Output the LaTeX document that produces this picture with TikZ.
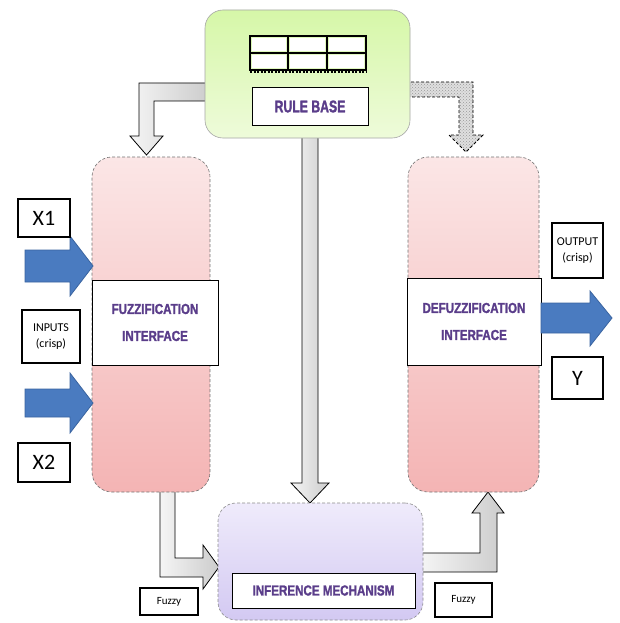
\documentclass[tikz,border=0pt]{standalone}
\usepackage{fontspec}
\setmainfont{Carlito}
\newfontfamily\lblfont[FakeStretch=0.8,FakeBold=1.5]{Liberation Sans Bold}
\newfontfamily\rbfont[FakeStretch=0.72,FakeBold=1.5]{Liberation Sans Bold}
\usetikzlibrary{patterns}
\definecolor{lblpurple}{HTML}{5A3D8A}
\definecolor{arrowblue}{HTML}{4A7BC0}
\definecolor{arrowblueedge}{HTML}{3A64A0}
\definecolor{pinktop}{HTML}{FBE6E6}
\definecolor{pinkbot}{HTML}{F4B4B4}
\definecolor{greentop}{HTML}{D6F7A8}
\definecolor{greenbot}{HTML}{EEFBDA}
\definecolor{lavtop}{HTML}{EFEBFB}
\definecolor{lavbot}{HTML}{D3C9F2}
\tikzset{
  textbox/.style={draw=black, line width=1.2pt, fill=white, inner sep=0pt, align=center},
  bandbox/.style={draw=black, line width=1pt, fill=white, inner sep=0pt, align=center,
     font=\lblfont\fontsize{14.5}{27}\selectfont, text=lblpurple},
  pinkbox/.style={rounded corners=20pt, draw=black!55, densely dashed, line width=0.6pt,
     top color=pinktop, bottom color=pinkbot, inner sep=0pt},
  grayarrow/.style={draw=black, line width=0.8pt, left color=gray!8, right color=gray!40},
  bluearrow/.style={draw=arrowblueedge, line width=0.8pt, fill=arrowblue},
}
\begin{document}
\begin{tikzpicture}[x=1pt,y=-1pt]
\useasboundingbox (0,0) rectangle (620,623);
\fill[white] (0,0) rectangle (620,623);

% ---- gray connector arrows (drawn first, boxes on top)
\draw[grayarrow] (302,136)--(318,136)--(318,483)--(329,483)--(310,503)--(291,483)--(302,483)--cycle;
\draw[grayarrow] (209,83)--(139,83)--(139,136)--(130,136)--(146.5,155)--(163,136)--(154,136)--(154,101)--(209,101)--cycle;
\fill[gray!25] (406,82)--(473,82)--(473,135)--(483,135)--(466,152)--(449,135)--(459,135)--(459,97)--(406,97)--cycle;
\draw[pattern=crosshatch dots, pattern color=gray!80, draw=black, line width=0.8pt, densely dashed]
   (406,82)--(473,82)--(473,135)--(483,135)--(466,152)--(449,135)--(459,135)--(459,97)--(406,97)--cycle;
\draw[grayarrow] (160,490)--(175,490)--(175,558)--(203,558)--(203,545)--(219,567)--(203,589)--(203,577)--(160,577)--cycle;
\draw[grayarrow] (421,553)--(480,553)--(480,513)--(472,513)--(488,492)--(504,513)--(497,513)--(497,572)--(421,572)--cycle;

% ---- rule base
\node[rounded corners=18pt, draw=black!35, line width=0.6pt, top color=greentop, bottom color=greenbot,
      minimum width=205pt, minimum height=128pt, inner sep=0pt] (rb) at (307.5,74) {};
\draw[line width=2.6pt] (250,36) rectangle (366,70);
\draw[line width=2pt] (250,53)--(366,53) (288,36)--(288,70) (327,36)--(327,70);
\fill[white] (252,38) rectangle (286,51) (290,38) rectangle (325,51) (329,38) rectangle (364,51);
\fill[white] (252,55) rectangle (286,68) (290,55) rectangle (325,68) (329,55) rectangle (364,68);
\draw[line width=2.6pt, dash pattern=on 2pt off 1.5pt] (250,72)--(366,72);
\node[textbox, line width=1pt, minimum width=116pt, minimum height=37pt,
      font=\rbfont\fontsize{17}{19}\selectfont, text=lblpurple] (rbl) at (310,106.5) {RULE BASE};

% ---- fuzzification
\node[pinkbox, minimum width=118pt, minimum height=335pt] (fz) at (151,324.5) {};
\node[bandbox, minimum width=126pt, minimum height=85pt] (fzb) at (155,322.5) {FUZZIFICATION\\INTERFACE};

% ---- defuzzification
\node[pinkbox, minimum width=131pt, minimum height=335pt] (dz) at (473.5,324.5) {};
\node[bandbox, minimum width=134pt, minimum height=87pt] (dzb) at (474,321.5) {DEFUZZIFICATION\\INTERFACE};

% ---- inference
\node[rounded corners=18pt, draw=black!45, densely dashed, line width=0.6pt, top color=lavtop, bottom color=lavbot,
      minimum width=205pt, minimum height=117pt, inner sep=0pt] (inf) at (320.5,561.5) {};
\node[textbox, line width=1pt, minimum width=183pt, minimum height=35pt,
      font=\lblfont\fontsize{14.5}{16}\selectfont, text=lblpurple] (infl) at (323.5,590.5) {INFERENCE MECHANISM};

% ---- blue arrows
\draw[bluearrow] (25,250)--(70,250)--(70,236)--(93,266)--(70,296)--(70,282)--(25,282)--cycle;
\draw[bluearrow] (25,389)--(70,389)--(70,373)--(93,403)--(70,433)--(70,417)--(25,417)--cycle;
\draw[bluearrow] (541,303)--(590,303)--(590,291)--(612,318)--(590,346)--(590,333)--(541,333)--cycle;

% ---- text boxes
\node[textbox, minimum width=52pt, minimum height=38pt, font=\fontsize{22}{24}\selectfont] (x1) at (44,218) {X1};
\node[textbox, minimum width=58pt, minimum height=53pt, font=\fontsize{12}{16}\selectfont] (inp) at (51,336.5) {INPUTS\\(crisp)};
\node[textbox, minimum width=52pt, minimum height=39pt, font=\fontsize{22}{24}\selectfont] (x2) at (44,462.5) {X2};
\node[textbox, minimum width=51pt, minimum height=55pt, font=\fontsize{12}{16}\selectfont] (out) at (577.5,250.5) {OUTPUT\\(crisp)};
\node[textbox, minimum width=51pt, minimum height=42pt, font=\fontsize{22}{24}\selectfont] (yy) at (577.5,378) {Y};
\node[textbox, minimum width=58pt, minimum height=27pt, font=\fontsize{11}{13}\selectfont] (fzl) at (169,601.5) {Fuzzy};
\node[textbox, minimum width=57pt, minimum height=34pt, font=\fontsize{11}{13}\selectfont] (fzr) at (463.5,600) {Fuzzy};
\end{tikzpicture}
\end{document}
